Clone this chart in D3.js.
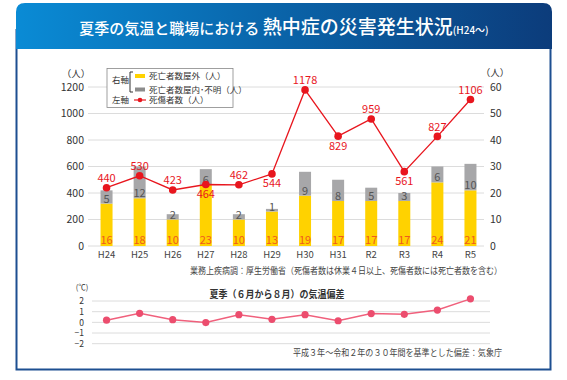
<!DOCTYPE html>
<html><head><meta charset="utf-8">
<script src="https://cdn.jsdelivr.net/npm/d3@7"></script>
<style>
body{margin:0;background:#fff;}
svg{display:block;font-family:"Noto Sans CJK JP","Noto Sans",sans-serif;}
</style></head>
<body>
<svg id="c" width="567" height="380"></svg>
<script>
const categories = ["H24","H25","H26","H27","H28","H29","H30","H31","R2","R3","R4","R5"];
const deathsOutdoor = [16,18,10,23,10,13,19,17,17,17,24,21];
const deathsIndoor = [5,12,2,6,2,1,9,8,5,3,6,10];
const casualties = [440,530,423,464,462,544,1178,829,959,561,827,1106];
const casualtyLabelSide = ["up","up","up","down","up","down","up","down","up","down","up","up"];
const leftTicks = [0,200,400,600,800,1000,1200];
const rightTicks = [0,10,20,30,40,50,60];
const tempAnomaly = [0.2,0.85,0.25,-0.02,0.72,0.28,0.72,0.15,0.82,0.75,1.15,2.2];
const tempTicks = [-2,-1,0,1,2];

const svg = d3.select("#c");
const defs = svg.append("defs");
const g = defs.append("linearGradient").attr("id","band").attr("x1","0").attr("x2","1").attr("y1","0").attr("y2","0");
g.append("stop").attr("offset","0").attr("stop-color","#0a8bd5");
g.append("stop").attr("offset","0.5").attr("stop-color","#0a63a8");
g.append("stop").attr("offset","1").attr("stop-color","#0c3c7b");

// frame
svg.append("rect").attr("x",16.5).attr("y",30).attr("width",534).attr("height",339.5)
  .attr("fill","#fff").attr("stroke","#1d4f91").attr("stroke-width",2);
svg.append("path").attr("d","M16,49 L16,12 Q16,3 25,3 L543,3 Q552,3 552,12 L552,49 Z").attr("fill","url(#band)");

const title = svg.append("text").attr("x",284).attr("y",34).attr("text-anchor","middle").attr("fill","#fff").attr("font-weight","500");
title.append("tspan").attr("font-size",15).text("夏季の気温と職場における ");
title.append("tspan").attr("font-size",19).text("熱中症の災害発生状況");
title.append("tspan").attr("font-size",10).text("(H24～)");

// scales
const x = d3.scaleBand().domain(categories).range([90,487]);
const yL = d3.scaleLinear().domain([0,1200]).range([246,87]);
const yR = d3.scaleLinear().domain([0,60]).range([246,87]);

// grid
svg.append("g").selectAll("line").data(leftTicks).join("line")
  .attr("x1",88).attr("x2",484).attr("y1",d=>yL(d)).attr("y2",d=>yL(d))
  .attr("stroke","#dcdcdc").attr("stroke-width",1);

// left axis
const la = svg.append("g").attr("transform","translate(92,0)")
  .call(d3.axisLeft(yL).tickValues(leftTicks).tickSize(0).tickPadding(8).tickFormat(d3.format("d")));
la.select(".domain").remove();
la.selectAll("text").attr("font-size",10.5).attr("fill","#333").attr("font-family","'Noto Sans CJK JP'");
const ra = svg.append("g").attr("transform","translate(482,0)")
  .call(d3.axisRight(yR).tickValues(rightTicks).tickSize(0).tickPadding(8));
ra.select(".domain").remove();
ra.selectAll("text").attr("font-size",10.5).attr("fill","#333").attr("font-family","'Noto Sans CJK JP'");
svg.append("text").attr("x",76).attr("y",77).attr("text-anchor","middle").attr("font-size",9.5).attr("fill","#333").text("（人）");
svg.append("text").attr("x",495).attr("y",76).attr("text-anchor","middle").attr("font-size",9.5).attr("fill","#333").text("（人）");

// category axis
const xa = svg.append("g").attr("transform","translate(0,249)")
  .call(d3.axisBottom(x).tickSize(0).tickPadding(2));
xa.select(".domain").remove();
xa.selectAll("text").attr("font-size",9.5).attr("fill","#444").attr("font-family","'Noto Sans CJK JP'");

// bars
const bw = 12;
const bars = svg.append("g");
bars.selectAll("rect.o").data(categories).join("rect").attr("class","o")
  .attr("x",d=>x(d)+x.bandwidth()/2-bw/2).attr("width",bw)
  .attr("y",(d,i)=>yR(deathsOutdoor[i])).attr("height",(d,i)=>yR(0)-yR(deathsOutdoor[i]))
  .attr("fill","#ffd200");
bars.selectAll("rect.i").data(categories).join("rect").attr("class","i")
  .attr("x",d=>x(d)+x.bandwidth()/2-bw/2).attr("width",bw)
  .attr("y",(d,i)=>yR(deathsOutdoor[i]+deathsIndoor[i])).attr("height",(d,i)=>yR(deathsOutdoor[i])-yR(deathsOutdoor[i]+deathsIndoor[i]))
  .attr("fill","#a7a7a9");
bars.selectAll("text.o").data(categories).join("text").attr("class","o")
  .attr("x",d=>x(d)+x.bandwidth()/2).attr("y",yR(0)-2).attr("text-anchor","middle")
  .attr("font-size",11).attr("fill","#f05a1e").text((d,i)=>deathsOutdoor[i]);
bars.selectAll("text.i").data(categories).join("text").attr("class","i")
  .attr("x",d=>x(d)+x.bandwidth()/2).attr("y",(d,i)=>yR(deathsOutdoor[i])-1).attr("text-anchor","middle")
  .attr("font-size",11).attr("fill","#555").text((d,i)=>deathsIndoor[i]);

// casualties line
const cx = (d,i)=>x(categories[i])+x.bandwidth()/2;
svg.append("path").datum(casualties)
  .attr("d",d3.line().x(cx).y(d=>yL(d)))
  .attr("fill","none").attr("stroke","#e8161e").attr("stroke-width",1.3);
svg.append("g").selectAll("circle").data(casualties).join("circle")
  .attr("cx",cx).attr("cy",d=>yL(d)).attr("r",3.8).attr("fill","#e8161e");
svg.append("g").selectAll("text").data(casualties).join("text")
  .attr("x",cx).attr("y",(d,i)=>yL(d)+(casualtyLabelSide[i]==="up"?-5.5:13.5))
  .attr("text-anchor","middle").attr("font-size",11).attr("fill","#e8161e").text(d=>d);

// legend
const lg = svg.append("g");
lg.append("rect").attr("x",107).attr("y",68.5).attr("width",126).attr("height",39).attr("fill","#fff").attr("stroke","#888").attr("stroke-width",0.8);
lg.append("text").attr("x",112).attr("y",82.5).attr("font-size",8.5).attr("fill","#333").text("右軸");
lg.append("path").attr("d","M133,72 L130,72 L130,92 L133,92").attr("fill","none").attr("stroke","#333").attr("stroke-width",1);
lg.append("rect").attr("x",135).attr("y",74).attr("width",10).attr("height",4).attr("fill","#ffd200");
lg.append("rect").attr("x",135).attr("y",87.5).attr("width",10).attr("height",4).attr("fill","#8c8c8c");
lg.append("text").attr("x",149).attr("y",79).attr("font-size",8.5).attr("fill","#333").text("死亡者数屋外（人）");
lg.append("text").attr("x",149).attr("y",92.5).attr("font-size",8.5).attr("fill","#333").text("死亡者数屋内･不明（人）");
lg.append("text").attr("x",112).attr("y",103).attr("font-size",8.5).attr("fill","#333").text("左軸");
lg.append("line").attr("x1",134).attr("x2",146).attr("y1",100).attr("y2",100).attr("stroke","#e8161e").attr("stroke-width",1.2);
lg.append("circle").attr("cx",140).attr("cy",100).attr("r",2.3).attr("fill","#e8161e");
lg.append("text").attr("x",149).attr("y",103).attr("font-size",8.5).attr("fill","#333").text("死傷者数（人）");

// source note
svg.append("text").attr("x",502).attr("y",274).attr("text-anchor","end").attr("font-size",9).attr("fill","#444")
  .attr("textLength",312).attr("lengthAdjust","spacingAndGlyphs")
  .text("業務上疾病調：厚生労働省（死傷者数は休業４日以上、死傷者数には死亡者数を含む）");

// lower chart
const yT = d3.scaleLinear().domain([-2,2]).range([343.7,301]);
svg.append("g").selectAll("line").data(tempTicks).join("line")
  .attr("x1",92).attr("x2",490).attr("y1",d=>yT(d)).attr("y2",d=>yT(d))
  .attr("stroke","#dcdcdc").attr("stroke-width",1);
const ta = svg.append("g").attr("transform","translate(88,0)")
  .call(d3.axisLeft(yT).tickValues(tempTicks).tickSize(0).tickPadding(4).tickFormat(d3.format("d")));
ta.select(".domain").remove();
ta.selectAll("text").attr("font-size",8.5).attr("fill","#333").attr("font-family","'Noto Sans CJK JP'");
svg.append("text").attr("x",82).attr("y",290).attr("text-anchor","middle").attr("font-size",7.5).attr("fill","#333").text("(℃)");
svg.append("text").attr("x",277).attr("y",298).attr("text-anchor","middle").attr("font-size",10).attr("font-weight","bold").attr("fill","#333")
  .attr("textLength",135).attr("lengthAdjust","spacingAndGlyphs")
  .text("夏季（６月から８月）の気温偏差");
svg.append("path").datum(tempAnomaly)
  .attr("d",d3.line().x(cx).y(d=>yT(d)))
  .attr("fill","none").attr("stroke","#f0607c").attr("stroke-width",1.5);
svg.append("g").selectAll("circle").data(tempAnomaly).join("circle")
  .attr("cx",cx).attr("cy",d=>yT(d)).attr("r",3.6).attr("fill","#ec4d6e");
svg.append("text").attr("x",502).attr("y",356).attr("text-anchor","end").attr("font-size",9).attr("fill","#444")
  .attr("textLength",209).attr("lengthAdjust","spacingAndGlyphs")
  .text("平成３年～令和２年の３０年間を基準とした偏差：気象庁");
</script>
</body></html>
